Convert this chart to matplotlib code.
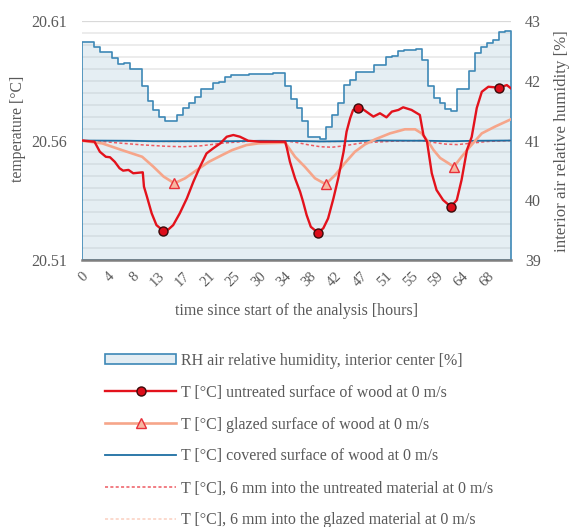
import matplotlib.pyplot as plt
import numpy as np
from matplotlib.patches import Patch
from matplotlib.lines import Line2D

plt.rcParams['font.family'] = ['Liberation Serif', 'DejaVu Serif']

# interior air relative humidity [%], one value per hour
rh_hourly = [42.65, 42.65, 42.57, 42.48, 42.48, 42.38, 42.28, 42.30, 42.19, 42.19,
             41.91, 41.66, 41.51, 41.40, 41.33, 41.33, 41.43, 41.54, 41.63, 41.73,
             41.86, 41.86, 41.96, 41.98, 42.07, 42.09, 42.09, 42.09, 42.11, 42.11,
             42.11, 42.11, 42.13, 42.13, 41.91, 41.69, 41.54, 41.33, 41.06, 41.06,
             41.03, 41.23, 41.43, 41.62, 41.93, 42.02, 42.15, 42.15, 42.15, 42.26,
             42.26, 42.39, 42.41, 42.50, 42.51, 42.51, 42.53, 42.34, 41.91, 41.72,
             41.63, 41.52, 41.50, 41.86, 41.86, 42.16, 42.46, 42.57, 42.63, 42.69,
             42.81, 42.83]

# untreated surface of wood
untreated_h = [0, 2.1, 3.0, 4.0, 4.7, 5.5, 6.3, 6.9, 7.8, 8.6, 10.2, 10.4, 10.9, 11.7, 12.5,
               13.6, 14.5, 15.3, 16.4, 17.6, 18.7, 19.8, 20.9, 22.0, 23.2, 24.3, 25.4, 26.5,
               27.9, 29.9, 34.1, 34.4, 34.9, 35.75, 36.6, 37.1, 37.7, 38.4, 39.6, 40.5, 41.3,
               42.2, 43.0, 43.9, 44.4, 45.0, 45.5, 46.3, 47.2, 48.9, 50.0, 51.1, 52.0, 53.1,
               53.9, 55.3, 56.7, 57.3, 57.9, 58.7, 59.5, 60.6, 61.9, 62.9, 63.7, 64.6, 65.4,
               66.25, 67.1, 68.2, 70.0, 71.3, 72.0]
untreated_t = [20.5600, 20.5595, 20.5553, 20.5532, 20.5530, 20.5511, 20.5484, 20.5474,
               20.5477, 20.5463, 20.5467, 20.5407, 20.5365, 20.5295, 20.5246, 20.5223,
               20.5228, 20.5246, 20.5295, 20.5358, 20.5428, 20.5490, 20.5546, 20.5567,
               20.5588, 20.5616, 20.5623, 20.5616, 20.5599, 20.5595, 20.5595, 20.5567,
               20.5511, 20.5442, 20.5386, 20.5344, 20.5288, 20.5239, 20.5214, 20.5233,
               20.5274, 20.5358, 20.5442, 20.5553, 20.5637, 20.5693, 20.5728, 20.5737,
               20.5730, 20.5700, 20.5714, 20.5697, 20.5721, 20.5728, 20.5739, 20.5728,
               20.5707, 20.5623, 20.5596, 20.5463, 20.5393, 20.5351, 20.5323, 20.5351,
               20.5435, 20.5560, 20.5615, 20.5736, 20.5804, 20.5825, 20.5821, 20.5832,
               20.5818]
untreated_marks = [13.6, 39.6, 46.3, 61.9, 70.0]

# glazed surface of wood
glazed_h = [0, 3.4, 6.7, 10.1, 12.0, 13.7, 15.5, 17.3, 19.3, 21.3, 23.5, 25.2, 27.6, 29.6,
            34.1, 35.75, 37.4, 39.1, 40.9, 42.5, 44.1, 45.8, 47.5, 49.2, 51.7, 54.2, 55.9,
            57.0, 58.1, 59.0, 60.1, 61.5, 62.4, 63.7, 65.1, 67.1, 69.3, 72.0]
glazed_t = [20.5599, 20.5588, 20.5560, 20.5532, 20.5490, 20.5449, 20.5421, 20.5442, 20.5477,
            20.5511, 20.5539, 20.5560, 20.5581, 20.5588, 20.5591, 20.5532, 20.5490, 20.5442,
            20.5417, 20.5456, 20.5505, 20.5553, 20.5584, 20.5605, 20.5630, 20.5647, 20.5647,
            20.5630, 20.5595, 20.5560, 20.5527, 20.5505, 20.5490, 20.5532, 20.5574, 20.5630,
            20.5658, 20.5689]
glazed_marks = [15.5, 40.9, 62.4]

# covered surface of wood
covered_h = [0, 8, 12, 25, 30, 36, 40, 44, 50, 58, 62, 66, 72]
covered_t = [20.5600, 20.5599, 20.5597, 20.5597, 20.5599, 20.5598, 20.5596, 20.5597,
             20.5600, 20.5599, 20.5597, 20.5599, 20.5600]

# 6 mm into the material
depth_h = [0, 3, 6, 10, 14, 17, 20, 24, 28, 34, 36, 38, 40, 42, 44, 47, 52, 57, 59, 61,
           63, 65, 68, 72]
depth_untreated_t = [20.5600, 20.5597, 20.5590, 20.5582, 20.5576, 20.5574, 20.5578,
                     20.5590, 20.5597, 20.5599, 20.5592, 20.5582, 20.5574, 20.5572,
                     20.5578, 20.5590, 20.5597, 20.5600, 20.5592, 20.5585, 20.5583,
                     20.5588, 20.5596, 20.5600]
depth_glazed_t = [20.5600, 20.5599, 20.5597, 20.5595, 20.5594, 20.5594, 20.5595, 20.5597,
                  20.5598, 20.5599, 20.5597, 20.5595, 20.5594, 20.5594, 20.5596, 20.5598,
                  20.5599, 20.5600, 20.5597, 20.5595, 20.5595, 20.5597, 20.5599, 20.5600]

tick_labels = ['0', '4', '8', '13', '17', '21', '25', '30', '34', '38', '42', '47',
               '51', '55', '59', '64', '68']

labels = ['RH air relative humidity, interior center [%]',
          'T [°C] untreated surface of wood at 0 m/s',
          'T [°C] glazed surface of wood at 0 m/s',
          'T [°C] covered surface of wood at 0 m/s',
          'T [°C], 6 mm into the untreated material at 0 m/s',
          'T [°C], 6 mm into the glazed material at 0 m/s']

grey = '#595959'
c_rh_edge = '#3d88b6'
c_rh_fill = (0.616, 0.753, 0.827, 0.26)
c_red = '#e3121c'
c_glazed = '#f6a58a'
c_covered = '#1d6ea3'
c_dot_red = '#ee5a62'
c_dot_pale = '#fbd0c0'

fig = plt.figure(figsize=(5.69, 5.27), dpi=100)
ax = fig.add_axes([0.1441, 0.5066, 0.7540, 0.4535])
ax2 = ax.twinx()
ax.set_zorder(ax2.get_zorder() + 1)
ax.patch.set_visible(False)

# humidity area on the right axis
rh_x = np.arange(len(rh_hourly) + 1)
rh_y = rh_hourly + [rh_hourly[-1]]
ax2.fill_between(rh_x, 39, rh_y, step='post', facecolor=c_rh_fill,
                 edgecolor=c_rh_edge, linewidth=1.2, zorder=2)
ax2.set_ylim(39, 43)
ax2.set_yticks([39, 40, 41, 42, 43])
ax2.set_yticks(np.arange(39, 43.01, 0.2), minor=True)
ax2.set_axisbelow(True)
ax2.grid(which='both', axis='y', color='#ebebeb', linewidth=1.3)
ax2.axhline(43, color='#d9d9d9', linewidth=1.6, zorder=3)
ax2.tick_params(which='both', length=0, labelsize=11.5, labelcolor=grey, pad=10)

# temperatures on the left axis
ax.plot(depth_h, depth_glazed_t, color=c_dot_pale, lw=1.1, ls=(0, (2, 1.5)), zorder=2)
ax.plot(depth_h, depth_untreated_t, color=c_dot_red, lw=1.1, ls=(0, (2, 1.5)), zorder=3)
ax.plot(covered_h, covered_t, color=c_covered, lw=1.3, zorder=4)
ax.plot(glazed_h, glazed_t, color=c_glazed, lw=1.9, zorder=5,
        marker='^', ms=7, mfc='#f8b6a0', mec='#e8303a', mew=1.0,
        markevery=[glazed_h.index(v) for v in glazed_marks])
ax.plot(untreated_h, untreated_t, color=c_red, lw=1.7, zorder=6,
        marker='o', ms=6.5, mfc='#dc0d1a', mec='#3a0a0a', mew=1.0,
        markevery=[untreated_h.index(v) for v in untreated_marks])

ax.set_xlim(0, 72)
ax.set_ylim(20.51, 20.61)
ax.set_yticks([20.51, 20.56, 20.61])
ax.set_yticklabels(['%.2f' % v for v in [20.51, 20.56, 20.61]])
ax.set_xticks(np.arange(len(tick_labels)) * 4.25)
ax.set_xticklabels(tick_labels, rotation=45, ha='right', va='top',
                   rotation_mode='anchor')
ax.tick_params(axis='y', length=0, labelsize=11.5, labelcolor=grey, pad=11)
ax.tick_params(axis='x', length=0, labelsize=10.5, labelcolor=grey, pad=7)
ax.set_xlabel('time since start of the analysis [hours]', color=grey, fontsize=11.5,
              labelpad=10)

# axis titles placed in figure coordinates
fig.text(0.032, 0.755, 'temperature [°C]', rotation=90, ha='center', va='center',
         color=grey, fontsize=11.3)
fig.text(0.988, 0.733, 'interior air relative humidity [%]', rotation=90,
         ha='center', va='center', color=grey, fontsize=12.2)

for a in (ax, ax2):
    for s in a.spines.values():
        s.set_visible(False)
ax.spines['bottom'].set_visible(True)
ax.spines['bottom'].set_color('#7f7f7f')
ax.spines['bottom'].set_linewidth(1.8)

handles = [
    Patch(facecolor='#e3edf3', edgecolor=c_rh_edge, linewidth=1.2),
    Line2D([], [], color=c_red, lw=1.7, marker='o', ms=6.5, mfc='#dc0d1a',
           mec='#3a0a0a', mew=1.0),
    Line2D([], [], color=c_glazed, lw=1.9, marker='^', ms=7, mfc='#f8b6a0',
           mec='#e8303a', mew=1.0),
    Line2D([], [], color=c_covered, lw=1.3),
    Line2D([], [], color=c_dot_red, lw=1.1, ls=(0, (2, 1.5))),
    Line2D([], [], color=c_dot_pale, lw=1.1, ls=(0, (2, 1.5))),
]
fig.legend(handles, labels, loc='upper left', bbox_to_anchor=(0.1845, 0.331),
           frameon=False, fontsize=11.5, labelcolor=grey, handlelength=4.45,
           handleheight=0.55, handletextpad=0.3, labelspacing=1.0,
           borderpad=0, borderaxespad=0)

fig.savefig('out.png', dpi=100)
